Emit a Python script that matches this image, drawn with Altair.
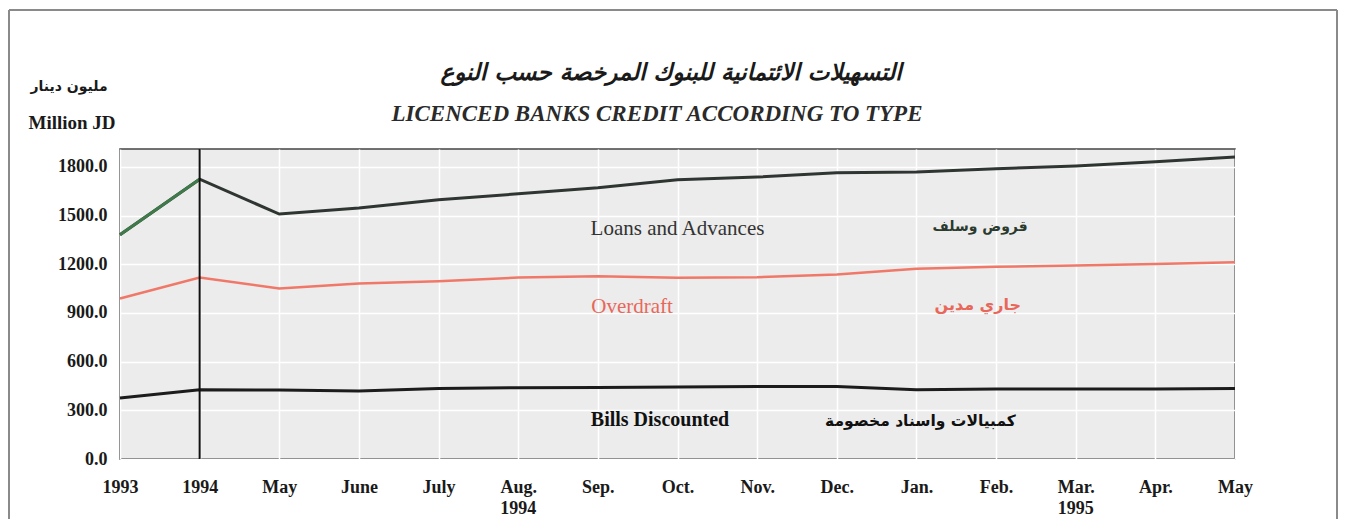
import altair as alt
import pandas as pd

months = ["1993", "1994", "May", "June", "July", "Aug.", "Sep.", "Oct.",
          "Nov.", "Dec.", "Jan.", "Feb.", "Mar.", "Apr.", "May"]
loans = [1382, 1724, 1509, 1546, 1597, 1634, 1671, 1720, 1737, 1763, 1769, 1788, 1806, 1831, 1861]
overdraft = [989, 1118, 1050, 1081, 1095, 1118, 1126, 1116, 1120, 1137, 1172, 1184, 1192, 1202, 1212]
bills = [376, 427, 425, 419, 435, 439, 441, 443, 447, 447, 427, 431, 431, 431, 435]

y_ticks = [0, 300, 600, 900, 1200, 1500, 1800]
year_marks_x = [5, 12]
year_marks_text = ["1994", "1995"]

idx = list(range(len(months)))
df = pd.DataFrame({"i": idx * 3,
                   "v": loans + overdraft + bills,
                   "s": ["loans"] * 15 + ["overdraft"] * 15 + ["bills"] * 15})

W, H = 1115, 310
SERIF = "Liberation Serif"
AR = "DejaVu Sans"

xs = alt.Scale(domain=[0, 14], nice=False, zero=False)
ys = alt.Scale(domain=[0, 1910], nice=False)

label_expr = "[" + ",".join("'%s'" % m for m in months) + "][datum.value]"

base = alt.Chart(df)

line_loans = base.transform_filter(alt.datum.s == "loans").mark_line(
    color="#2f3632", strokeWidth=3).encode(
    x=alt.X("i:Q", scale=xs, axis=alt.Axis(values=idx, labelExpr=label_expr, title=None,
                                            grid=True, gridColor="white", gridWidth=1.5,
                                            domain=False, ticks=False, labelPadding=19,
                                            labelFont=SERIF, labelFontSize=18, labelFontWeight="bold",
                                            labelColor="#1a1a1a", labelFlush=False)),
    y=alt.Y("v:Q", scale=ys, axis=alt.Axis(values=y_ticks, format=".1f", title=None,
                                            grid=True, gridColor="white", gridWidth=1.5,
                                            domain=False, ticks=False, labelPadding=13,
                                            labelFont=SERIF, labelFontSize=18, labelFontWeight="bold",
                                            labelColor="#1a1a1a")),
)
line_loans_green = base.transform_filter((alt.datum.s == "loans") & (alt.datum.i <= 1)).mark_line(
    color="#3f7a4a", strokeWidth=3).encode(x=alt.X("i:Q", scale=xs), y=alt.Y("v:Q", scale=ys))
line_over = base.transform_filter(alt.datum.s == "overdraft").mark_line(
    color="#f07868", strokeWidth=2.5).encode(x=alt.X("i:Q", scale=xs), y=alt.Y("v:Q", scale=ys))
line_bills = base.transform_filter(alt.datum.s == "bills").mark_line(
    color="#1c1c1c", strokeWidth=3).encode(x=alt.X("i:Q", scale=xs), y=alt.Y("v:Q", scale=ys))

vline = alt.Chart(pd.DataFrame({"i": [1]})).mark_rule(color="#111", strokeWidth=2).encode(
    x=alt.X("i:Q", scale=xs), y=alt.value(0), y2=alt.value(H))

ann = pd.DataFrame({
    "i": [7.0, 10.8, 6.43, 10.77, 6.78, 10.05],
    "v": [1418, 1430, 938, 950, 243, 237],
    "t": ["Loans and Advances", "قروض وسلف", "Overdraft", "جاري مدين",
          "Bills Discounted", "كمبيالات واسناد  مخصومة"],
    "c": ["#333333", "#2a3a2e", "#e8675a", "#e8675a", "#111111", "#111111"],
    "f": [SERIF, AR, SERIF, AR, SERIF, AR],
    "w": ["normal", "bold", "normal", "bold", "bold", "bold"],
    "z": [21, 14, 21, 16, 20, 15.5],
})
ann_layers = []
for _, r in ann.iterrows():
    ann_layers.append(
        alt.Chart(pd.DataFrame([r])).mark_text(
            font=r["f"], fontSize=float(r["z"]), fontWeight=r["w"], color=r["c"],
            align="center", baseline="middle").encode(
            x=alt.X("i:Q", scale=xs), y=alt.Y("v:Q", scale=ys), text="t:N"))

years = alt.Chart(pd.DataFrame({"i": year_marks_x, "t": year_marks_text})).mark_text(
    font=SERIF, fontSize=18, fontWeight="bold", color="#1a1a1a", baseline="alphabetic").encode(
    x=alt.X("i:Q", scale=xs), y=alt.value(H + 55), text="t:N")

def txt(s, x, y, **kw):
    return alt.Chart(pd.DataFrame({"t": [s]})).mark_text(align="center", baseline="middle", **kw).encode(
        x=alt.value(x), y=alt.value(y), text="t:N")

t_ar = txt("التسهيلات الائتمانية للبنوك المرخصة حسب النوع", 551, -76,
           font=AR, fontSize=23, fontWeight="bold", fontStyle="italic", color="#1a1a1a")
t_en = txt("LICENCED BANKS CREDIT ACCORDING TO TYPE", 537, -35,
           font=SERIF, fontSize=23, fontWeight="bold", fontStyle="italic", color="#2a2a2a")
t_unit_ar = txt("مليون دينار", -51, -62, font=AR, fontSize=14, fontWeight="bold", color="#1a1a1a")
t_unit_en = txt("Million JD", -48, -26, font=SERIF, fontSize=19, fontWeight="bold", color="#1a1a1a")

fr = dict(color="#8a8a8a", strokeWidth=2)
frame_l = alt.Chart(pd.DataFrame({"a": [0]})).mark_rule(**fr).encode(
    x=alt.value(-111), y=alt.value(-139), y2=alt.value(H + 70))
frame_r = alt.Chart(pd.DataFrame({"a": [0]})).mark_rule(**fr).encode(
    x=alt.value(1217), y=alt.value(-139), y2=alt.value(H + 70))
frame_t = alt.Chart(pd.DataFrame({"a": [0]})).mark_rule(**fr).encode(
    x=alt.value(-111), x2=alt.value(1217), y=alt.value(-139))

chart = alt.layer(
    line_loans, line_loans_green, line_over, line_bills, vline,
    *ann_layers, years, t_ar, t_en, t_unit_ar, t_unit_en, frame_l, frame_r, frame_t
).properties(
    width=W, height=H,
    autosize=alt.AutoSizeParams(type="none"),
    padding={"left": 112, "top": 141, "right": 103, "bottom": 60},
).configure_view(fill="#ececec", stroke="#444444", strokeWidth=1.5)

chart.save("out.html", embed_options={"renderer": "svg", "actions": False})
